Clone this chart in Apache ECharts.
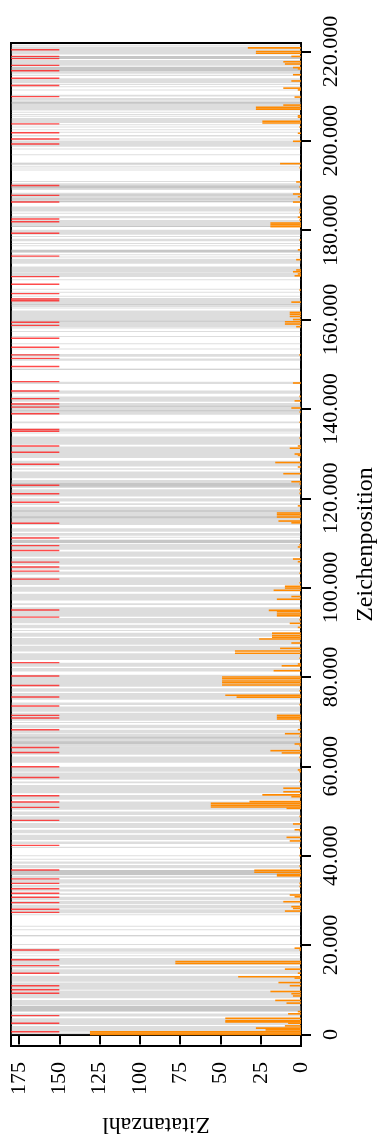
<!DOCTYPE html>
<html>
<head>
<meta charset="utf-8">
<script src="https://cdn.jsdelivr.net/npm/echarts@6/dist/echarts.min.js"></script>
<style>
  html, body { margin: 0; padding: 0; background: #fff; }
  #chart { width: 380px; height: 1138px; }
</style>
</head>
<body>
<div id="chart"></div>
<script>
// Tick labels
const countTicks = [0, 25, 50, 75, 100, 125, 150, 175];
const positionTicks = [0, 20000, 40000, 60000, 80000, 100000, 120000, 140000, 160000, 180000, 200000, 220000];

// Quoted passages in the text: [start, end] character positions
const quoteSpans = [
  [221300,221500],[219300,221100],[218300,219000],[218300,219000],[216800,218100],[215500,216600],[215500,216600],
  [215200,215400],[214900,215100],[214500,214700],[212900,214000],[212500,212700],[212000,212200],[211300,211500],
  [209900,210300],[209000,209600],[208300,208800],[208300,208800],[206800,208300],[206300,206500],[205800,206000],
  [205400,205600],[204000,205100],[203500,203700],[203000,203200],[202400,202600],[201800,202000],[201000,201300],
  [200300,200500],[198700,200100],
  [198100,198300],[196800,197000],[194900,195100],[194900,195100],[194600,194800],[194200,194400],[193800,194000],
  [193400,193600],[190800,191000],[189000,190500],[189400,190000],[186200,188400],[187800,188000],[186900,187100],
  [186300,186500],[184200,185300],[183700,183900],[182700,183200],[180700,182300],[180700,180900],[179000,180100],
  [178500,178700],[177500,178100],[176900,177100],[176400,176600],[175000,175600],[175000,175600],[174400,174600],
  [173900,174100],[172500,173600],[170500,171900],[169500,170400],[168800,169000],[166700,166900],[166000,166200],
  [165100,165300],[163100,164800],[163200,163400],[162800,163000],[162500,162700],[159600,162000],[158300,159600],
  [159500,159700],[158000,158200],[157200,157400],
  [156100,156300],[154500,154700],[153300,153500],[151700,152300],[150800,151300],[148800,149000],[148800,149000],
  [145600,146100],[143400,144100],[141600,142800],[138700,141300],[139500,139700],[140500,140700],[136800,137200],
  [134900,135600],[134500,134700],[132000,133800],[129000,131600],[127100,128400],[126400,126700],[124500,126000],
  [122300,124100],[122600,123400],[120400,122000],[119300,120000],[118500,118900],[114000,118100],[115500,116000],
  [117000,117300],
  [112500,113300],[111600,112200],[111200,111400],[110000,110700],[110000,110700],[108500,109800],[106900,108100],
  [105100,106600],[104000,104700],[102900,103600],[100600,102300],[99100,100200],[97100,98600],[96100,96500],
  [93500,95600],[92000,93200],[90900,91700],[90300,90500],[89000,89900],[87200,88700],[85700,87000],[83800,85300],
  [82300,83200],[81200,82000],[77800,80500],[76700,77500],[74900,76400],[73700,74300],[72200,73400],[70200,72000],
  [69700,69900],[68500,69300],[67400,68200],[64400,67300],[65000,65600],[66200,66600],[62600,64400],[60800,62200],
  [58800,59900],[57000,58600],[56200,56600],[54000,55800],[52500,53600],[50300,52100],[49100,49900],[47600,48800],
  [46200,47300],[45000,45800],[43500,44700],[42600,43200],[41700,42000],
  [39900,40100],[39100,39300],[38200,38700],[37200,37900],[35700,36800],[35700,36800],[35000,35500],[33800,34700],
  [32900,33500],[32000,32500],[31200,31600],[30100,30800],[29200,29900],[28200,29000],[27100,28000],[26700,26900],
  [24100,24300],[23300,23500],[22000,22200],[22000,22200],[20000,20200],[18500,19300],[18100,18300],[17500,17700],
  [15600,17100],[14800,15300],[13500,14600],[11800,13100],[10000,11600],[8100,9800],[6600,7700],[5100,6400],
  [5100,6400],[4000,4700],[2100,3600],[600,1900],[0,400]
];

// Marked positions (drawn at the top of the count scale)
const markerPositions = [
  220400,218900,218400,216900,215700,214000,212400,209900,203800,201800,200400,199300,
  190000,187800,186300,182500,181900,179300,174200,169600,167900,165800,164600,164200,159400,158700,
  155800,153800,152100,151300,149500,146100,144000,142300,141100,140400,138900,135400,135000,131700,
  130300,127600,122900,121000,119100,114400,
  111100,109400,108300,105700,104600,103700,101900,95000,93400,83200,80200,78100,75500,73500,
  71400,70800,68200,64200,63100,59900,57500,53400,52000,50800,47900,42300,
  36800,34800,33800,32600,31600,30700,29500,28000,27300,18900,16700,15400,13700,10900,10000,9200,
  4200,2500,600
];

// Number of quotations per character position: [position, count]
const quoteCounts = [
  [220800,33],[220000,28],[219600,28],[218900,6],[217700,11],[217200,10],[216400,5],[216100,2],[214800,5],
  [213400,6],[211800,11],[211400,2],[209800,4],[208000,11],[207500,28],[207100,28],[205600,2],[205300,2],
  [204400,24],[204000,24],[203100,1],[201700,2],[199900,5],
  [194900,13],[194000,1],[190800,3],[189700,1],[188100,5],[187500,2],[186300,5],[184600,1],[184000,1],
  [182900,2],[182300,1],[181600,19],[181200,19],[180800,19],[177800,1],[175600,2],[173400,3],[171100,3],
  [170700,5],[170200,2],[169800,4],[166600,1],[163900,6],[161600,7],[161200,7],[160700,7],[160000,5],
  [159500,10],[159000,10],[158400,3],
  [152100,1],[145800,5],[142800,1],[141800,4],[140200,6],[139300,1],[137000,1],[133500,1],[131700,2],
  [131200,7],[129900,4],[129600,2],[128000,16],[127000,2],[125500,11],[123700,6],[123200,1],[121900,1],
  [121100,1],[118300,2],[116700,15],[116300,15],[115800,15],[114900,14],[114500,6],
  [109600,1],[109100,2],[106400,5],[105800,2],[103200,1],[101100,1],[100300,10],[99900,10],[99400,17],
  [98000,6],[97400,15],[94900,20],[94600,15],[94100,15],[93700,15],[92800,1],[92000,7],[91100,2],
  [89800,18],[89300,18],[88900,18],[88500,26],[87600,6],[86400,13],[85800,41],[85300,41],[84200,1],
  [82900,2],[82500,12],[81400,17],[80000,49],[79600,49],[79100,49],[78700,49],[78200,49],[76900,1],
  [75900,47],[75500,40],[73800,1],
  [71400,15],[71000,15],[70600,15],[70200,1],[68200,2],[67300,10],[66700,1],[65000,4],[64600,1],
  [63500,19],[63000,12],[62000,1],[59200,2],[58800,1],[56600,1],[55100,11],[54300,11],[53600,24],
  [53200,6],[52100,32],[51700,56],[51300,56],[50900,56],[50600,9],[48800,1],[47100,5],[45800,4],
  [45600,1],[44100,9],[43300,7],[41700,1],
  [40000,1],[37700,1],[36700,29],[36300,29],[35800,15],[35500,15],[33800,1],[33100,1],[31200,7],
  [30800,4],[29700,11],[28600,6],[28200,5],[27600,10],[19300,4],[18900,1],[16300,78],[15900,78],
  [14600,10],[13700,2],[12900,39],[12600,4],[11600,14],[10900,7],[9600,19],[9100,6],[8600,5],
  [7600,16],[7000,9],[5100,2],[4600,8],[3600,47],[3100,47],[2800,47],[2500,8],[1900,10],[1400,28],
  [1000,22],[600,131],[300,131],[0,131]
];

const COUNT_MIN = 0, COUNT_MAX = 180;
const POS_MIN = -2600, POS_MAX = 221900;
const MARKER_FROM = 150;

const FONT = 'Liberation Serif';
const germanThousands = v => String(v).replace(/\B(?=(\d{3})+(?!\d))/g, '.');

function clip(rect, params) {
  const cs = params.coordSys;
  return echarts.graphic.clipRectByRect(rect, { x: cs.x, y: cs.y, width: cs.width, height: cs.height });
}

// Rectangle between two (count, position) corners, with a minimum pixel height
function bandRect(api, v0, v1, p0, p1, minH) {
  const a = api.coord([v0, p0]);
  const b = api.coord([v1, p1]);
  let y = Math.min(a[1], b[1]);
  let h = Math.abs(a[1] - b[1]);
  if (h < minH) { y = (a[1] + b[1]) / 2 - minH / 2; h = minH; }
  return { x: Math.min(a[0], b[0]), y: y, width: Math.abs(a[0] - b[0]), height: h };
}

const chart = echarts.init(document.getElementById('chart'), null, { renderer: 'canvas' });

chart.setOption({
  animation: false,
  backgroundColor: '#fff',
  grid: {
    left: 11, right: 79, top: 43, bottom: 92,
    outerBoundsMode: 'none',
    containLabel: false,
    show: true, borderColor: '#000', borderWidth: 2, backgroundColor: 'transparent'
  },
  xAxis: {
    type: 'value',
    inverse: true,
    min: COUNT_MIN, max: COUNT_MAX,
    position: 'bottom',
    name: 'Zitatanzahl',
    nameLocation: 'middle',
    nameRotate: 180,
    nameGap: 66,
    nameTextStyle: { fontFamily: FONT, fontSize: 24, color: '#000' },
    splitLine: { show: false },
    axisLine: { show: true, lineStyle: { color: '#000', width: 2 } },
    axisTick: { show: true, inside: false, length: 10, customValues: countTicks, lineStyle: { color: '#000', width: 2 } },
    axisLabel: { customValues: countTicks, rotate: 90, margin: 16, fontFamily: FONT, fontSize: 22, color: '#000' }
  },
  yAxis: {
    type: 'value',
    min: POS_MIN, max: POS_MAX,
    position: 'right',
    name: 'Zeichenposition',
    nameLocation: 'middle',
    nameRotate: 90,
    nameGap: 53,
    nameTextStyle: { fontFamily: FONT, fontSize: 24, color: '#000' },
    splitLine: { show: false },
    axisLine: { show: true, lineStyle: { color: '#000', width: 2 } },
    axisTick: { show: true, inside: false, length: 10, customValues: positionTicks, lineStyle: { color: '#000', width: 2 } },
    axisLabel: { customValues: positionTicks, rotate: 90, margin: 19, fontFamily: FONT, fontSize: 22, color: '#000',
      formatter: v => germanThousands(v) }
  },
  series: [
    {
      type: 'custom',
      name: 'Zitate',
      data: quoteSpans,
      encode: { y: [0, 1] },
      clip: true,
      renderItem: (params, api) => {
        const r = clip(bandRect(api, COUNT_MIN, COUNT_MAX, api.value(0), api.value(1), 1), params);
        return r && { type: 'rect', shape: r, style: { fill: 'rgba(150,150,150,0.32)' } };
      }
    },
    {
      type: 'custom',
      name: 'Markierung',
      data: markerPositions.map(p => [p]),
      encode: { y: 0 },
      clip: true,
      renderItem: (params, api) => {
        const p = api.value(0);
        const r = clip(bandRect(api, MARKER_FROM, COUNT_MAX, p, p, 1.4), params);
        return r && { type: 'rect', shape: r, style: { fill: 'rgba(255,30,30,0.8)' } };
      }
    },
    {
      type: 'custom',
      name: 'Zitatanzahl',
      data: quoteCounts,
      encode: { y: 0, x: 1 },
      clip: true,
      renderItem: (params, api) => {
        const p = api.value(0);
        const r = clip(bandRect(api, 0, api.value(1), p - 180, p + 180, 1.3), params);
        return r && { type: 'rect', shape: r, style: { fill: '#ff8a00' } };
      }
    }
  ]
});
</script>
</body>
</html>
